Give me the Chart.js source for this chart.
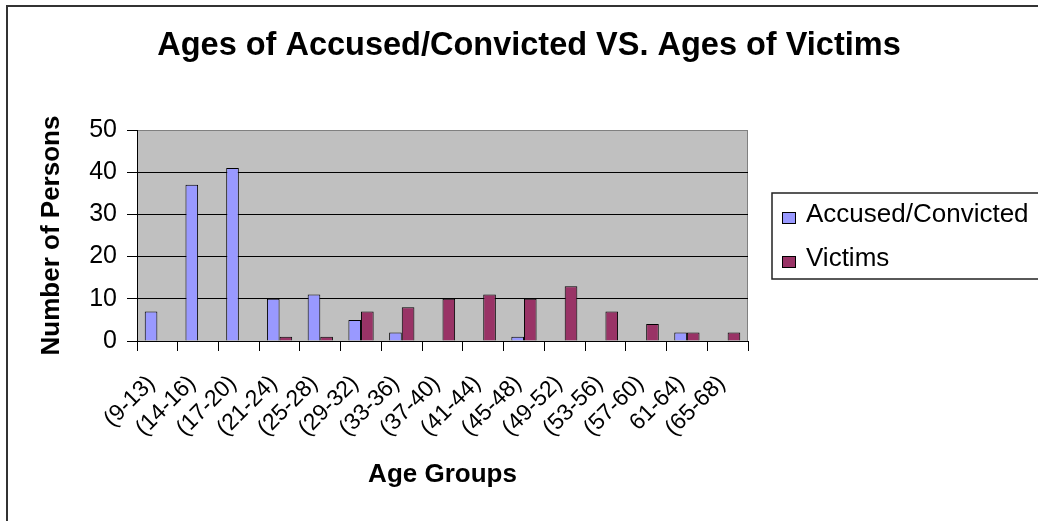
<!DOCTYPE html>
<html>
<head>
<meta charset="utf-8">
<title>Ages of Accused/Convicted VS. Ages of Victims</title>
<script src="https://cdn.jsdelivr.net/npm/chart.js@4.4.0/dist/chart.umd.min.js"></script>
<style>
  html, body { margin: 0; padding: 0; background: #fff; }
  #wrap { width: 1038px; height: 521px; }
</style>
</head>
<body>
<div id="wrap"><canvas id="ageChart"></canvas></div>
<script>
// 年齢層（x軸）
const ageGroups = ['(9-13)', '(14-16)', '(17-20)', '(21-24)', '(25-28)', '(29-32)', '(33-36)',
    '(37-40)', '(41-44)', '(45-48)', '(49-52)', '(53-56)', '(57-60)', '61-64)', '(65-68)'];

// 人数
const accusedCounts = [7, 37, 41, 10, 11, 5, 2, 0, 0, 1, 0, 0, 0, 2, 0];
const victimCounts  = [0, 0, 0, 1, 1, 7, 8, 10, 11, 10, 13, 7, 4, 2, 2];

// y軸の目盛り
const yTicks = [0, 10, 20, 30, 40, 50];

const FONT = '"Liberation Sans", Arial, sans-serif';
Chart.defaults.font.family = FONT;
Chart.defaults.color = '#000';

// 外枠とプロットエリアの背景
const frameAndPlotArea = {
    id: 'frameAndPlotArea',
    beforeDraw(chart) {
        const { ctx, chartArea: a } = chart;
        ctx.save();
        ctx.fillStyle = '#fff';
        ctx.fillRect(0, 0, chart.width, chart.height);

        ctx.strokeStyle = '#333';
        ctx.lineWidth = 2;
        ctx.beginPath();
        ctx.moveTo(7, chart.height + 2);
        ctx.lineTo(7, 6);
        ctx.lineTo(chart.width + 2, 6);
        ctx.stroke();

        ctx.fillStyle = '#c0c0c0';
        ctx.fillRect(a.left, a.top, a.right - a.left, a.bottom - a.top);
        ctx.strokeStyle = '#808080';
        ctx.lineWidth = 1;
        ctx.beginPath();
        ctx.moveTo(a.left, a.top + 0.5);
        ctx.lineTo(a.right - 0.5, a.top + 0.5);
        ctx.lineTo(a.right - 0.5, a.bottom);
        ctx.stroke();
        ctx.restore();
    }
};

// 右側の凡例（レイアウトに箱を追加して場所を確保）
const legendPanel = {
    id: 'legendPanel',
    beforeInit(chart) {
        const box = {
            position: 'right',
            weight: 0,
            fullSize: false,
            options: {},
            width: 0,
            height: 0,
            isHorizontal() { return false; },
            update(maxWidth, maxHeight) {
                this.width = 290;
                this.height = maxHeight;
            },
            draw() {}
        };
        chart.$legendBox = box;
        Chart.layouts.addBox(chart, box);
    },
    afterDraw(chart) {
        const { ctx } = chart;
        const box = chart.$legendBox;
        const x0 = box.left + 24;
        const y0 = chart.chartArea.top + 63;
        ctx.save();
        ctx.strokeStyle = '#222';
        ctx.lineWidth = 1.5;
        ctx.strokeRect(x0, y0, 300, 86);

        ctx.font = '26px ' + FONT;
        ctx.textBaseline = 'alphabetic';
        ctx.textAlign = 'left';
        chart.data.datasets.forEach((ds, i) => {
            const sy = y0 + 19 + i * 44;
            ctx.fillStyle = ds.backgroundColor;
            ctx.fillRect(x0 + 10, sy, 14, 12);
            ctx.strokeStyle = '#000';
            ctx.lineWidth = 1;
            ctx.strokeRect(x0 + 10.5, sy + 0.5, 13, 11);
            ctx.fillStyle = '#000';
            ctx.fillText(ds.label, x0 + 34, y0 + 29 + i * 44);
        });
        ctx.restore();
    }
};

const ctx = document.getElementById('ageChart').getContext('2d');
new Chart(ctx, {
    type: 'bar',
    data: {
        labels: ageGroups,
        datasets: [{
            label: 'Accused/Convicted',
            data: accusedCounts,
            backgroundColor: '#9999ff',
            borderColor: '#000',
            borderWidth: 1,
            categoryPercentage: 0.62,
            barPercentage: 1.0
        }, {
            label: 'Victims',
            data: victimCounts,
            backgroundColor: '#993366',
            borderColor: '#000',
            borderWidth: 1,
            categoryPercentage: 0.62,
            barPercentage: 1.0
        }]
    },
    options: {
        responsive: true,
        maintainAspectRatio: false,
        animation: false,
        layout: { padding: { left: 20, right: 0, top: 0, bottom: 0 } },
        plugins: {
            legend: { display: false },
            tooltip: { enabled: false },
            title: {
                display: true,
                text: 'Ages of Accused/Convicted VS. Ages of Victims',
                color: '#000',
                font: { size: 32.5, weight: 'bold', lineHeight: 1.2 },
                padding: { top: 27, bottom: 64 }
            }
        },
        scales: {
            x: {
                grid: { offset: true, drawOnChartArea: false, tickLength: 10, tickColor: '#000' },
                border: { color: '#000', width: 1 },
                ticks: {
                    autoSkip: false, maxRotation: 45, minRotation: 45, color: '#000',
                    font: { size: 23 }, padding: 19, labelOffset: -6
                },
                title: {
                    display: true,
                    text: 'Age Groups',
                    color: '#000',
                    font: { size: 26, weight: 'bold', lineHeight: 1.2 },
                    padding: { top: 0, bottom: 31 }
                },
                afterFit(s) { s.height = 180; }
            },
            y: {
                min: 0,
                max: 50,
                afterBuildTicks(s) { s.ticks = yTicks.map(v => ({ value: v })); },
                grid: {
                    color: c => (c.tick && c.tick.value === 50 ? '#808080' : '#000'),
                    tickColor: '#000',
                    tickLength: 10,
                    lineWidth: 1
                },
                border: { color: '#000', width: 1 },
                ticks: { color: '#000', font: { size: 25 }, padding: 10 },
                title: {
                    display: true,
                    text: 'Number of Persons',
                    color: '#000',
                    font: { size: 26, weight: 'bold', lineHeight: 1.2 },
                    padding: { top: 16.5, bottom: 0 }
                },
                afterFit(s) { s.width = 117; }
            }
        }
    },
    plugins: [frameAndPlotArea, legendPanel]
});
</script>
</body>
</html>
